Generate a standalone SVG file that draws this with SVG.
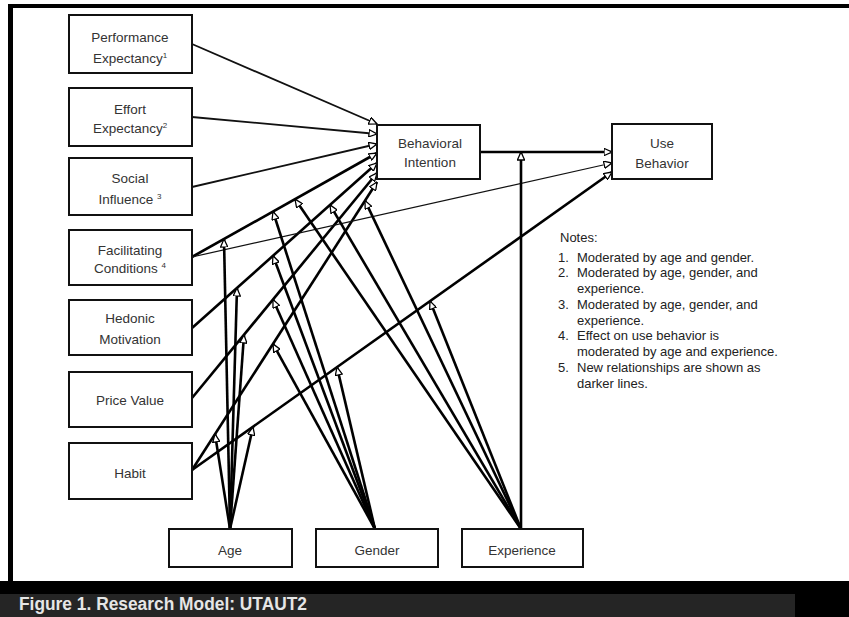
<svg xmlns="http://www.w3.org/2000/svg" width="849" height="617" viewBox="0 0 849 617">
<style>
.box{fill:#fff;stroke:#111;stroke-width:2}
.lbl{font-family:"Liberation Sans",Arial,sans-serif;font-size:13.5px;fill:#333;text-anchor:middle}
.sup{font-size:8px}
.note{font-family:"Liberation Sans",Arial,sans-serif;font-size:13px;fill:#222}
.thin{stroke:#111;stroke-width:1.2;fill:none}
.med{stroke:#111;stroke-width:1.8;fill:none}
.thick{stroke:#000;stroke-width:2.6;fill:none}
.arr{marker-end:url(#ah)}
</style>
<defs>
<marker id="ah" viewBox="0 0 10 10" refX="10" refY="5" markerUnits="userSpaceOnUse" markerWidth="9" markerHeight="8" orient="auto">
<path d="M0,0.5 L10,5 L0,9.5 z" fill="#fff" stroke="#000" stroke-width="1.6"/>
</marker>
</defs>
<rect x="0" y="0" width="849" height="617" fill="#fff"/>
<!-- frame -->
<rect x="8" y="4" width="841" height="4" fill="#000"/>
<rect x="8" y="4" width="5" height="580" fill="#000"/>
<rect x="0" y="581" width="849" height="36" fill="#000"/>
<rect x="0" y="594" width="795" height="23" fill="#252525"/>
<text x="19" y="610" font-family="'Liberation Sans',Arial,sans-serif" font-size="17.5" font-weight="bold" fill="#e6e6e6" textLength="288" lengthAdjust="spacingAndGlyphs">Figure 1.  Research Model:  UTAUT2</text>

<g id="connectors">
<!-- constructs to BI -->
<line class="med arr" x1="192" y1="44" x2="377" y2="124"/>
<line class="med arr" x1="192" y1="117" x2="377" y2="134"/>
<line class="med arr" x1="192" y1="187" x2="377" y2="144"/>
<line class="thick arr" x1="192" y1="257" x2="377" y2="153"/>
<line class="thick arr" x1="192" y1="328" x2="377" y2="163"/>
<line class="thick arr" x1="192" y1="398" x2="377" y2="173"/>
<line class="thick arr" x1="192" y1="470" x2="377" y2="182"/>
<!-- to UB -->
<line class="thin arr" x1="192" y1="257" x2="612" y2="163"/>
<line class="thick arr" x1="192" y1="470" x2="612" y2="172"/>
<line class="thick arr" x1="480" y1="152" x2="612" y2="152"/>
<!-- Age moderators -->
<line class="thick arr" x1="230" y1="529" x2="224" y2="239"/>
<line class="thick arr" x1="230" y1="529" x2="237" y2="288"/>
<line class="thick arr" x1="230" y1="529" x2="244" y2="335"/>
<line class="thick arr" x1="230" y1="529" x2="215" y2="434"/>
<line class="thick arr" x1="230" y1="529" x2="253" y2="427"/>
<!-- Gender moderators -->
<line class="thick arr" x1="375" y1="529" x2="273" y2="211.5"/>
<line class="thick arr" x1="375" y1="529" x2="273" y2="255.7"/>
<line class="thick arr" x1="375" y1="529" x2="273" y2="299.5"/>
<line class="thick arr" x1="375" y1="529" x2="273" y2="343.9"/>
<line class="thick arr" x1="375" y1="529" x2="337" y2="367.1"/>
<!-- Experience moderators -->
<line class="thick arr" x1="521" y1="529" x2="295" y2="199.1"/>
<line class="thick arr" x1="521" y1="529" x2="330" y2="204.9"/>
<line class="thick arr" x1="521" y1="529" x2="365" y2="200.6"/>
<line class="thick arr" x1="521" y1="529" x2="430" y2="301.1"/>
<line class="thick arr" x1="521" y1="529" x2="521" y2="152"/>
</g>

<g id="performance-expectancy">
<rect class="box" x="69" y="15" width="123" height="58"/>
<text class="lbl" x="130" y="42">Performance</text>
<text class="lbl" x="130" y="63">Expectancy<tspan class="sup" dy="-5">1</tspan></text>
</g>
<g id="effort-expectancy">
<rect class="box" x="69" y="88" width="123" height="58"/>
<text class="lbl" x="130" y="114">Effort</text>
<text class="lbl" x="130" y="133">Expectancy<tspan class="sup" dy="-5">2</tspan></text>
</g>
<g id="social-influence">
<rect class="box" x="69" y="158" width="123" height="57"/>
<text class="lbl" x="130" y="183">Social</text>
<text class="lbl" x="130" y="204">Influence <tspan class="sup" dy="-5">3</tspan></text>
</g>
<g id="facilitating-conditions">
<rect class="box" x="69" y="230" width="123" height="55"/>
<text class="lbl" x="130" y="255">Facilitating</text>
<text class="lbl" x="130" y="273">Conditions <tspan class="sup" dy="-5">4</tspan></text>
</g>
<g id="hedonic-motivation">
<rect class="box" x="69" y="300" width="123" height="55"/>
<text class="lbl" x="130" y="323">Hedonic</text>
<text class="lbl" x="130" y="344">Motivation</text>
</g>
<g id="price-value">
<rect class="box" x="69" y="372" width="123" height="55"/>
<text class="lbl" x="130" y="405">Price Value</text>
</g>
<g id="habit">
<rect class="box" x="69" y="443" width="123" height="56"/>
<text class="lbl" x="130" y="478">Habit</text>
</g>
<g id="behavioral-intention">
<rect class="box" x="377" y="125" width="103" height="54"/>
<text class="lbl" x="430" y="148">Behavioral</text>
<text class="lbl" x="430" y="167">Intention</text>
</g>
<g id="use-behavior">
<rect class="box" x="612" y="124" width="100" height="55"/>
<text class="lbl" x="662" y="148">Use</text>
<text class="lbl" x="662" y="168">Behavior</text>
</g>
<g id="age">
<rect class="box" x="169" y="529" width="123" height="38"/>
<text class="lbl" x="230" y="555">Age</text>
</g>
<g id="gender">
<rect class="box" x="316" y="529" width="122" height="38"/>
<text class="lbl" x="377" y="555">Gender</text>
</g>
<g id="experience">
<rect class="box" x="462" y="529" width="121" height="38"/>
<text class="lbl" x="522" y="555">Experience</text>
</g>

<g id="notes">
<text class="note" x="560" y="242">Notes:</text>
<text class="note" x="558" y="261.5">1.</text><text class="note" x="577" y="261.5">Moderated by age and gender.</text>
<text class="note" x="558" y="277">2.</text><text class="note" x="577" y="277">Moderated by age, gender, and</text>
<text class="note" x="577" y="293">experience.</text>
<text class="note" x="558" y="309">3.</text><text class="note" x="577" y="309">Moderated by age, gender, and</text>
<text class="note" x="577" y="324.5">experience.</text>
<text class="note" x="558" y="340">4.</text><text class="note" x="577" y="340">Effect on use behavior is</text>
<text class="note" x="577" y="356">moderated by age and experience.</text>
<text class="note" x="558" y="372">5.</text><text class="note" x="577" y="372">New relationships are shown as</text>
<text class="note" x="577" y="387.5">darker lines.</text>
</g>
</svg>
